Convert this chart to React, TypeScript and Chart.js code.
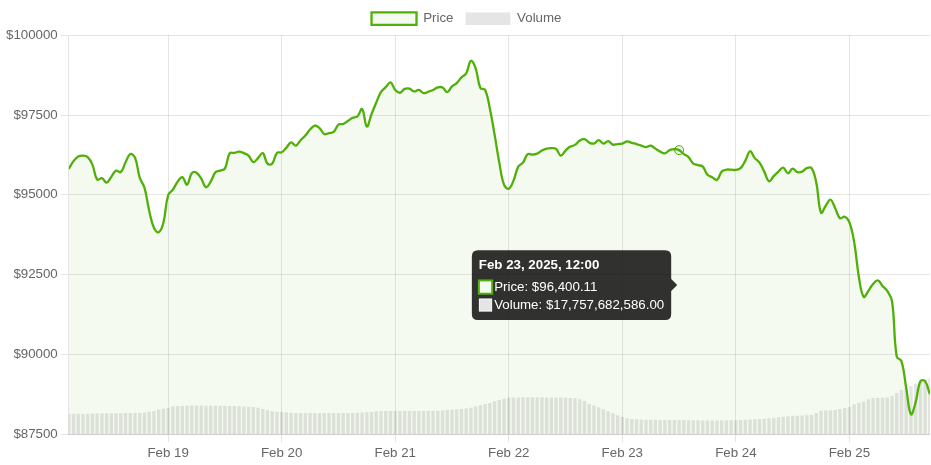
import React, { useEffect, useRef } from 'react';
import { Chart, registerables } from 'chart.js';

Chart.register(...registerables);

// Hourly series starting Feb 18, 2025 03:00 (UTC)
const START_UTC = Date.UTC(2025, 1, 18, 3, 0, 0);
const HOUR_MS = 3600000;

const priceValues: number[] = [
  95810, 96056, 96197, 96228, 96181, 95946, 95474, 95521, 95380, 95568,
  95757, 95710, 96018, 96276, 96166, 95537, 95223, 94500, 93965, 93824,
  94123, 94987, 95160, 95411, 95553, 95317, 95678, 95694, 95506, 95238,
  95411, 95710, 95757, 95820, 96301, 96313, 96354, 96307, 96228, 96024,
  96150, 96307, 95977, 95977, 96313, 96332, 96480, 96640, 96543, 96709,
  96857, 97046, 97171, 97093, 96904, 96936, 96973, 97203, 97218, 97313,
  97413, 97454, 97690, 97140, 97533, 97894, 98224, 98375, 98523, 98287,
  98199, 98319, 98328, 98240, 98287, 98186, 98230, 98287, 98366, 98366,
  98218, 98397, 98501, 98680, 98806, 99199, 98963, 98350, 98287, 97706,
  96888, 96008, 95317, 95191, 95443, 95883, 96008, 96276, 96260, 96291,
  96386, 96448, 96464, 96439, 96228, 96386, 96511, 96565, 96700, 96747,
  96637, 96606, 96716, 96606, 96684, 96574, 96590, 96606, 96675, 96628,
  96590, 96543, 96496, 96543, 96448, 96354, 96301, 96401, 96433, 96400.11,
  96276, 96181, 95977, 95930, 95883, 95631, 95553, 95465, 95726, 95788,
  95788, 95779, 95836, 96071, 96364, 96150, 96008, 95726, 95427, 95584,
  95726, 95851, 95672, 95820, 95710, 95726, 95836, 95836, 95380, 94437,
  94657, 94845, 94578, 94264, 94311, 94138, 93525, 92425, 91797, 91985,
  92205, 92315, 92142, 91985, 91671, 89927, 89785, 88946, 88119, 88497,
  89157, 89157, 88748,
];

const volumeValues: number[] = [
  25.7e9, 25.7e9, 25.6e9, 25.5e9, 25.6e9, 26.0e9, 26.1e9, 26.2e9, 26.3e9, 26.3e9,
  26.4e9, 26.4e9, 26.5e9, 26.5e9, 26.6e9, 26.7e9, 27.4e9, 28.2e9, 29.2e9, 31.1e9,
  32.0e9, 33.3e9, 35.2e9, 35.6e9, 35.9e9, 35.9e9, 36.0e9, 36.1e9, 36.0e9, 35.9e9,
  35.9e9, 35.8e9, 35.8e9, 35.7e9, 35.6e9, 35.5e9, 35.2e9, 34.9e9, 34.5e9, 34.2e9,
  33.3e9, 31.6e9, 30.1e9, 29.0e9, 28.2e9, 27.9e9, 27.3e9, 26.9e9, 26.7e9, 26.6e9,
  26.5e9, 26.6e9, 26.6e9, 26.7e9, 26.6e9, 26.5e9, 26.5e9, 26.6e9, 26.7e9, 26.8e9,
  26.8e9, 27.0e9, 27.3e9, 27.8e9, 28.3e9, 28.8e9, 29.0e9, 29.1e9, 29.2e9, 29.2e9,
  29.1e9, 29.2e9, 29.3e9, 29.2e9, 29.1e9, 29.2e9, 29.3e9, 29.4e9, 29.6e9, 29.9e9,
  30.3e9, 30.8e9, 31.4e9, 32.0e9, 32.5e9, 33.4e9, 35.0e9, 36.4e9, 37.9e9, 39.3e9,
  41.5e9, 43.1e9, 44.8e9, 46.0e9, 46.2e9, 46.4e9, 46.5e9, 46.6e9, 46.6e9, 46.5e9,
  46.5e9, 46.4e9, 46.4e9, 46.3e9, 46.2e9, 46.0e9, 45.7e9, 45.3e9, 44.0e9, 41.8e9,
  38.4e9, 36.2e9, 34.0e9, 31.3e9, 29.0e9, 26.2e9, 23.8e9, 21.6e9, 20.0e9, 19.0e9,
  18.6e9, 18.3e9, 18.2e9, 18.1e9, 18.0e9, 17.9e9, 17.9e9, 17.8e9, 17.8e9, 17757682586,
  17.7e9, 17.6e9, 17.5e9, 17.4e9, 17.3e9, 17.3e9, 17.2e9, 17.2e9, 17.3e9, 17.4e9,
  17.5e9, 17.6e9, 17.8e9, 18.0e9, 18.3e9, 18.6e9, 19.0e9, 19.5e9, 20.1e9, 20.7e9,
  21.3e9, 21.9e9, 22.4e9, 22.8e9, 23.1e9, 23.4e9, 23.7e9, 24.1e9, 26.6e9, 29.4e9,
  29.8e9, 30.1e9, 30.6e9, 31.8e9, 33.0e9, 34.2e9, 37.7e9, 39.5e9, 41.2e9, 44.0e9,
  45.6e9, 46.0e9, 46.1e9, 46.3e9, 48.5e9, 52.0e9, 55.8e9, 58.7e9, 60.9e9, 63.8e9,
  66.3e9, 69.4e9, 70.6e9,
];

const dayTicks: string[] = [
  '2025-02-19', '2025-02-20', '2025-02-21', '2025-02-22',
  '2025-02-23', '2025-02-24', '2025-02-25',
];

const yTickMin = 87500;
const yTickMax = 100000;
const yTickStep = 2500;
const VOLUME_AXIS_MAX = 505e9;
const ACTIVE_INDEX = 129;

const MONTHS = ['Jan', 'Feb', 'Mar', 'Apr', 'May', 'Jun', 'Jul', 'Aug', 'Sep', 'Oct', 'Nov', 'Dec'];
const GREEN = 'rgb(80,176,8)';
const GREEN_FILL = 'rgba(80,176,8,0.06)';
const GRAY_BAR = 'rgba(0,0,0,0.1)';
const FONT_FAMILY = "'Liberation Sans', Arial, Helvetica, sans-serif";
const FONT_SIZE = 13.3;

const pad2 = (n: number) => (n < 10 ? '0' + n : String(n));

export default function App() {
  const canvasRef = useRef<HTMLCanvasElement | null>(null);

  useEffect(() => {
    const canvas = canvasRef.current;
    if (!canvas) return;
    const n = Math.min(priceValues.length, volumeValues.length);
    const times = Array.from({ length: n }, (_, i) => START_UTC + i * HOUR_MS);
    const tickValues = dayTicks.map((d) => Date.parse(d + 'T00:00:00Z'));

    Chart.defaults.font.family = FONT_FAMILY;
    Chart.defaults.font.size = FONT_SIZE;
    Chart.defaults.color = '#666';

    const chart = new Chart(canvas, {
      type: 'line',
      data: {
        datasets: [
          {
            type: 'line',
            label: 'Price',
            data: times.map((t, i) => ({ x: t, y: priceValues[i] })),
            borderColor: GREEN,
            backgroundColor: GREEN_FILL,
            borderWidth: 2.3,
            pointRadius: 0,
            pointHoverRadius: 4.5,
            pointHoverBorderWidth: 1,
            tension: 0.4,
            fill: 'start',
            yAxisID: 'y',
          } as any,
          {
            type: 'bar',
            label: 'Volume',
            data: times.map((t, i) => ({ x: t, y: volumeValues[i] })),
            backgroundColor: GRAY_BAR,
            borderWidth: 0,
            yAxisID: 'y1',
          } as any,
        ],
      },
      options: {
        animation: false,
        responsive: true,
        maintainAspectRatio: false,
        layout: { padding: { left: 3, right: 1, top: 0, bottom: 1 } },
        interaction: { mode: 'index', intersect: false },
        scales: {
          x: {
            type: 'linear',
            offset: false,
            min: times[0],
            max: times[n - 1],
            afterBuildTicks: (scale: any) => {
              scale.ticks = tickValues.map((v) => ({ value: v }));
            },
            ticks: {
              autoSkip: false,
              maxRotation: 0,
              callback: (value: any) => {
                const d = new Date(Number(value));
                return MONTHS[d.getUTCMonth()] + ' ' + d.getUTCDate();
              },
            },
            grid: { color: 'rgba(0,0,0,0.1)', offset: false },
          },
          y: {
            type: 'linear',
            position: 'left',
            min: yTickMin,
            max: yTickMax,
            ticks: {
              stepSize: yTickStep,
              callback: (value: any) => '$' + value,
            },
            grid: { color: 'rgba(0,0,0,0.1)' },
          },
          y1: {
            type: 'linear',
            display: false,
            min: 0,
            max: VOLUME_AXIS_MAX,
          },
        },
        plugins: {
          filler: { drawTime: 'beforeDatasetsDraw' } as any,
          legend: {
            position: 'top',
            labels: {
              boxWidth: 45,
              boxHeight: 12.5,
              padding: 12,
              color: '#666',
            },
          },
          tooltip: {
            mode: 'index',
            intersect: false,
            position: 'average',
            padding: 7,
            caretSize: 6,
            caretPadding: 2,
            cornerRadius: 6,
            titleFont: { family: FONT_FAMILY, size: FONT_SIZE, weight: 'bold' },
            bodyFont: { family: FONT_FAMILY, size: FONT_SIZE },
            titleMarginBottom: 6,
            bodySpacing: 2,
            callbacks: {
              title: (items: any[]) => {
                if (!items.length) return '';
                const d = new Date(items[0].parsed.x);
                return (
                  MONTHS[d.getUTCMonth()] + ' ' + d.getUTCDate() + ', ' + d.getUTCFullYear() +
                  ', ' + pad2(d.getUTCHours()) + ':' + pad2(d.getUTCMinutes())
                );
              },
              label: (ctx: any) =>
                ctx.dataset.label + ': $' +
                Number(ctx.parsed.y).toLocaleString('en-US', {
                  minimumFractionDigits: 2,
                  maximumFractionDigits: 2,
                }),
              labelColor: (ctx: any) =>
                ctx.datasetIndex === 0
                  ? { borderColor: GREEN, backgroundColor: GREEN_FILL, borderWidth: 2 }
                  : { borderColor: GRAY_BAR, backgroundColor: GRAY_BAR, borderWidth: 1 },
            } as any,
          },
        },
      } as any,
    });

    const active = [
      { datasetIndex: 0, index: ACTIVE_INDEX },
      { datasetIndex: 1, index: ACTIVE_INDEX },
    ];
    chart.setActiveElements(active);
    const pt: any = chart.getDatasetMeta(0).data[ACTIVE_INDEX];
    chart.tooltip?.setActiveElements(active, { x: pt ? pt.x : 0, y: pt ? pt.y : 0 });
    chart.update();

    return () => {
      chart.destroy();
    };
  }, []);

  return (
    <>
      <style>{'body{margin:0}'}</style>
      <div style={{ position: 'relative', width: '931px', height: '465px' }}>
        <canvas ref={canvasRef} />
      </div>
    </>
  );
}
